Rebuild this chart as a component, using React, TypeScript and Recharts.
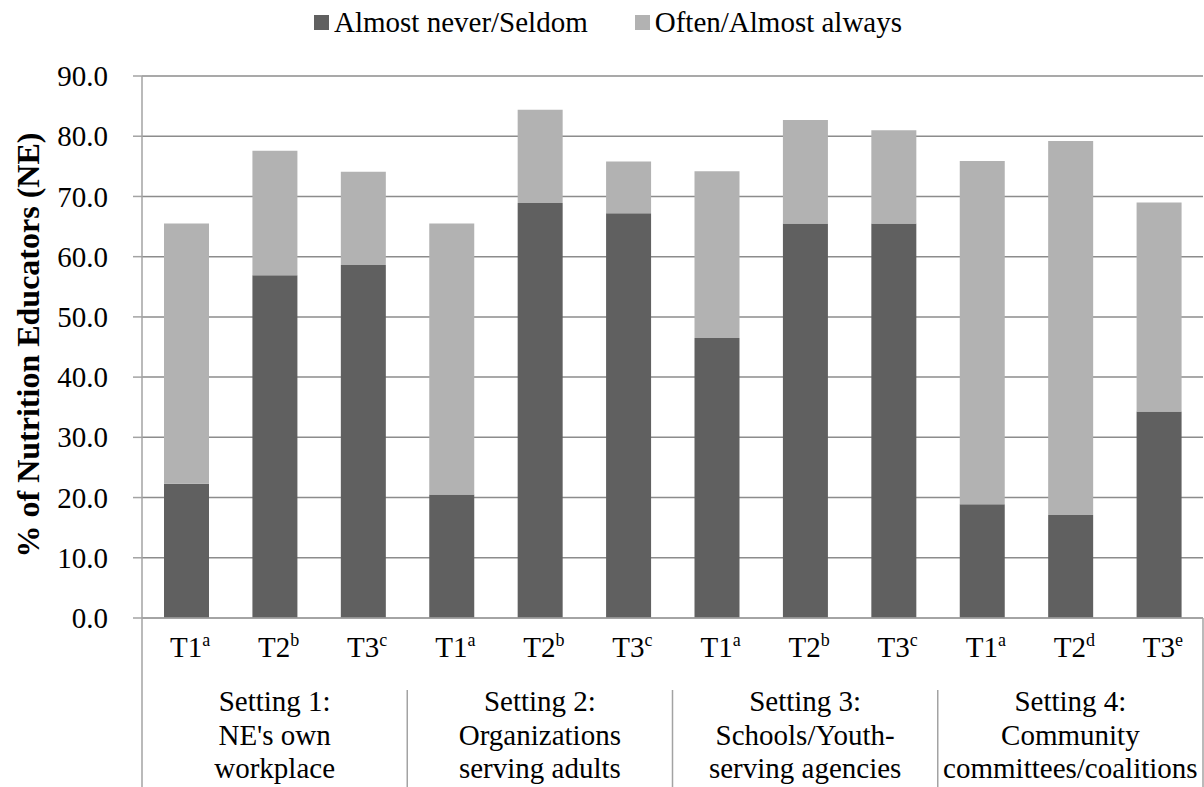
import React from 'react';
import { BarChart, Bar, XAxis, YAxis, CartesianGrid, Legend, Label } from 'recharts';

// time points per setting, with the footnote letter shown as superscript
const timepoints = ['T1', 'T2', 'T3', 'T1', 'T2', 'T3', 'T1', 'T2', 'T3', 'T1', 'T2', 'T3'];
const superscripts = ['a', 'b', 'c', 'a', 'b', 'c', 'a', 'b', 'c', 'a', 'd', 'e'];
const settingLabels = [
  ['Setting 1:', "NE's own", 'workplace'],
  ['Setting 2:', 'Organizations', 'serving adults'],
  ['Setting 3:', 'Schools/Youth-', 'serving agencies'],
  ['Setting 4:', 'Community', 'committees/coalitions']
];
const seldomPct = [22.3, 56.9, 58.6, 20.5, 68.9, 67.2, 46.5, 65.5, 65.5, 18.9, 17.1, 34.3];
const oftenPct = [43.2, 20.7, 15.5, 45.0, 15.5, 8.6, 27.7, 17.2, 15.5, 57.0, 62.1, 34.7];
const yTicks = [0, 10, 20, 30, 40, 50, 60, 70, 80, 90];

const DARK = '#606060';
const LIGHT = '#b2b2b2';
const GRID = '#8c8c8c';
const AXIS = '#a3a3a3';
const FONT = "'Liberation Serif', 'Times New Roman', serif";

const CHART_W = 1204;
const CHART_H = 787;
const PLOT_LEFT = 142;
const MARGIN_RIGHT = 1;
const BAND = (CHART_W - PLOT_LEFT - MARGIN_RIGHT) / timepoints.length;

const chartData = timepoints.map((t, i) => ({
  key: `${t}-${i}`,
  seldom: seldomPct[i],
  often: oftenPct[i]
}));

function ValueTick(props: any) {
  const { x, y, payload } = props;
  return (
    <text x={x} y={y} dy="0.35em" textAnchor="end" fontSize={29} fill="#000" style={{ fontFamily: FONT }}>
      {Number(payload.value).toFixed(1)}
    </text>
  );
}

function CategoryTick(props: any) {
  const { x, y, index } = props;
  const group = Math.floor(index / 3);
  const half = BAND / 2;
  return (
    <g style={{ fontFamily: FONT }}>
      <text x={x + 4} y={y + 39} textAnchor="middle" fontSize={29} fill="#000">
        {timepoints[index]}
        <tspan dy={-11} fontSize={18}>{superscripts[index]}</tspan>
      </text>
      {index % 3 === 1 &&
        settingLabels[group].map((line, k) => (
          <text key={k} x={x} y={y + 93 + k * 33.5} textAnchor="middle" fontSize={29} fill="#000">
            {line}
          </text>
        ))}
      {index % 3 === 0 && (
        <line x1={x - half} x2={x - half} y1={index === 0 ? y : y + 72} y2={CHART_H} stroke={AXIS} strokeWidth={1.5} />
      )}
      {index === timepoints.length - 1 && (
        <line x1={x + half} x2={x + half} y1={y} y2={CHART_H} stroke={AXIS} strokeWidth={1.5} />
      )}
    </g>
  );
}

function LegendContent(props: any) {
  const { payload } = props;
  return (
    <div style={{ display: 'flex', alignItems: 'center', fontFamily: FONT, fontSize: 29, color: '#000', lineHeight: '34px' }}>
      {(payload || []).map((entry: any, i: number) => (
        <div key={i} style={{ display: 'flex', alignItems: 'center', marginLeft: i ? 47 : 0 }}>
          <span style={{ display: 'inline-block', width: 15, height: 15, background: entry.color, marginRight: 5 }} />
          <span>{entry.value}</span>
        </div>
      ))}
    </div>
  );
}

export default function App() {
  return (
    <div style={{ position: 'absolute', left: 0, top: 0, background: '#fff', fontFamily: FONT }}>
      <BarChart
        width={CHART_W}
        height={CHART_H}
        data={chartData}
        margin={{ top: 76, right: MARGIN_RIGHT, left: 0, bottom: 0 }}
        barSize={45}
        style={{ fontFamily: FONT }}
      >
        <CartesianGrid vertical={false} stroke={GRID} strokeWidth={1.5} />
        <XAxis
          dataKey="key"
          height={CHART_H - 618}
          axisLine={{ stroke: AXIS, strokeWidth: 1.5 }}
          tickLine={false}
          tickSize={0}
          tickMargin={0}
          interval={0}
          tick={<CategoryTick />}
        />
        <YAxis
          width={PLOT_LEFT}
          domain={[0, 90]}
          ticks={yTicks}
          interval={0}
          axisLine={{ stroke: AXIS, strokeWidth: 1.5 }}
          tickLine={{ stroke: AXIS, strokeWidth: 1.5 }}
          tickSize={9}
          tickMargin={25}
          tick={<ValueTick />}
        >
          <Label
            content={(p: any) => {
              const vb = p.viewBox || { y: 76, height: 542 };
              const cy = vb.y + vb.height / 2 - 2;
              return (
                <text
                  x={28}
                  y={cy}
                  transform={`rotate(-90, 28, ${cy})`}
                  textAnchor="middle"
                  dominantBaseline="central"
                  fontSize={32}
                  fontWeight="bold"
                  style={{ fontFamily: FONT }}
                  fill="#000"
                >
                  % of Nutrition Educators (NE)
                </text>
              );
            }}
          />
        </YAxis>
        <Legend
          layout="vertical"
          align="center"
          verticalAlign="middle"
          wrapperStyle={{ top: 5, left: 314, width: 'auto' }}
          content={<LegendContent />}
        />
        <Bar dataKey="seldom" name="Almost never/Seldom" stackId="a" fill={DARK} isAnimationActive={false} />
        <Bar dataKey="often" name="Often/Almost always" stackId="a" fill={LIGHT} isAnimationActive={false} />
      </BarChart>
    </div>
  );
}
